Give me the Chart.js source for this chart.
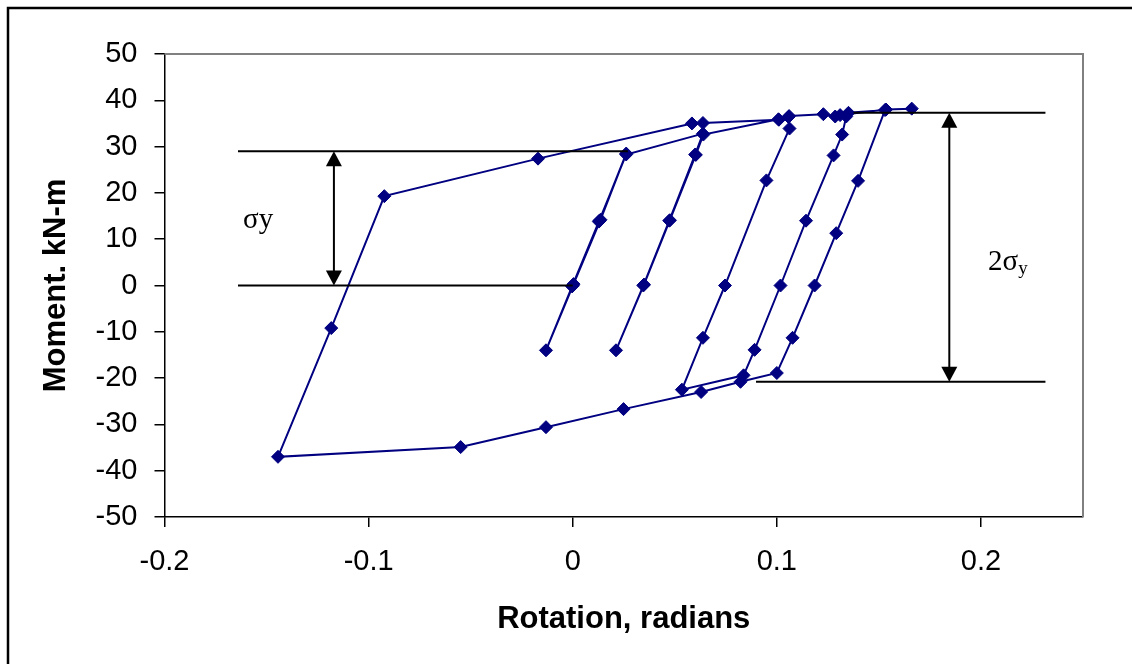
<!DOCTYPE html>
<html>
<head>
<meta charset="utf-8">
<script src="https://cdn.jsdelivr.net/npm/chart.js@4.4.1/dist/chart.umd.min.js"></script>
<style>
  html, body { margin: 0; padding: 0; background: #fff; }
  #chart { display: block; }
</style>
</head>
<body>
<canvas id="chart" width="1132" height="664"></canvas>
<script>
// measured loop, in test order (rotation in radians, moment in kN-m)
const rotation = [
    0.0000, 0.0131, 0.0262, 0.0136, 0.0004, -0.0131, -0.0003, 0.0128, 0.0262,
    0.0638, 0.0600, 0.0473, 0.0346, 0.0212, 0.0349, 0.0476, 0.0603, 0.0640,
    0.1008, 0.1057, 0.1062, 0.0949, 0.0746, 0.0638, 0.0535,
    0.0837, 0.0891, 0.1018, 0.1143, 0.1278, 0.1320, 0.1340, 0.1351,
    0.1530, 0.1398, 0.1291, 0.1185, 0.1077, 0.1000,
    0.0822, 0.0629, 0.0249, -0.0131, -0.0549, -0.1444,
    -0.1183, -0.0923, -0.0170, 0.0584, 0.0638,
    0.1010, 0.1060, 0.1228, 0.1286, 0.1310, 0.1535, 0.1661
];
const moment = [
    0.0, 14.0, 28.5, 14.2, 0.3, -14.0, -0.2, 13.8, 28.3,
    32.8, 28.3, 14.0, 0.0, -14.0, 0.2, 14.1, 28.2, 32.6,
    35.9, 36.4, 33.9, 22.7, 0.0, -11.3, -22.5,
    -19.4, -13.9, 0.0, 14.0, 28.1, 32.6, 36.5, 37.3,
    37.9, 22.6, 11.3, 0.0, -11.3, -18.9,
    -20.8, -23.0, -26.7, -30.6, -34.9, -37.0,
    -9.2, 19.3, 27.4, 35.0, 35.1,
    35.8, 36.6, 37.0, 36.5, 36.8, 38.0, 38.2
];

// axis ticks
const xTicks = [-0.2, -0.1, 0, 0.1, 0.2];
const yTicks = [50, 40, 30, 20, 10, 0, -10, -20, -30, -40, -50];

// annotation: yield band (sigma y) and reversed band (2 sigma y)
const sigmaLevels = [29.0, 0.0];
const sigmaStart = [-0.164, -0.164];
const sigmaEnd = [0.027, 0.0];
const sigmaArrowX = -0.117;
const twoSigmaLevels = [37.3, -20.8];
const twoSigmaStart = [0.1376, 0.0898];
const twoSigmaEnd = [0.2316, 0.2316];
const twoSigmaArrowX = 0.1845;

const points = rotation.map((r, i) => ({ x: r, y: moment[i] }));

function arrowHead(ctx, x, y, dir) {
    // dir = -1 points up, 1 points down; tip at (x, y)
    ctx.beginPath();
    ctx.moveTo(x, y);
    ctx.lineTo(x - 8, y - dir * 15);
    ctx.lineTo(x + 8, y - dir * 15);
    ctx.closePath();
    ctx.fill();
}

const annotate = {
    id: "annotate",
    beforeDraw(chart) {
        const ctx = chart.ctx;
        ctx.save();
        ctx.fillStyle = "#fff";
        ctx.fillRect(0, 0, chart.width, chart.height);
        ctx.strokeStyle = "#000";
        ctx.lineWidth = 2.5;
        ctx.strokeRect(8, 8, chart.width + 20, chart.height + 20);
        ctx.restore();
    },
    beforeDatasetsDraw(chart) {
        const ctx = chart.ctx;
        const a = chart.chartArea;
        ctx.save();
        ctx.strokeStyle = "#808080";
        ctx.lineWidth = 2;
        ctx.beginPath();
        ctx.moveTo(a.left, a.top);
        ctx.lineTo(a.right, a.top);
        ctx.lineTo(a.right, a.bottom);
        ctx.stroke();
        ctx.restore();
    },
    afterDatasetsDraw(chart) {
        const ctx = chart.ctx;
        const xs = chart.scales.x, ys = chart.scales.y;
        ctx.save();
        ctx.strokeStyle = "#000";
        ctx.fillStyle = "#000";
        ctx.lineWidth = 2;

        const hline = (y, x0, x1) => {
            ctx.beginPath();
            ctx.moveTo(xs.getPixelForValue(x0), ys.getPixelForValue(y));
            ctx.lineTo(xs.getPixelForValue(x1), ys.getPixelForValue(y));
            ctx.stroke();
        };
        const arrow = (x, yTop, yBot) => {
            const px = xs.getPixelForValue(x);
            const t = ys.getPixelForValue(yTop), b = ys.getPixelForValue(yBot);
            ctx.beginPath();
            ctx.moveTo(px, t + 10);
            ctx.lineTo(px, b - 10);
            ctx.stroke();
            arrowHead(ctx, px, t, -1);
            arrowHead(ctx, px, b, 1);
        };

        sigmaLevels.forEach((y, i) => hline(y, sigmaStart[i], sigmaEnd[i]));
        twoSigmaLevels.forEach((y, i) => hline(y, twoSigmaStart[i], twoSigmaEnd[i]));
        arrow(sigmaArrowX, sigmaLevels[0], sigmaLevels[1]);
        arrow(twoSigmaArrowX, twoSigmaLevels[0], twoSigmaLevels[1]);

        ctx.textBaseline = "middle";
        ctx.textAlign = "left";
        ctx.font = "29px 'Liberation Serif', 'Times New Roman', serif";
        ctx.fillText("σy", xs.getPixelForValue(-0.1615), ys.getPixelForValue(14));

        const tx = xs.getPixelForValue(0.2035), ty = ys.getPixelForValue(5);
        ctx.fillText("2σ", tx, ty);
        const w = ctx.measureText("2σ").width;
        ctx.font = "19px 'Liberation Serif', 'Times New Roman', serif";
        ctx.fillText("y", tx + w, ty + 7);
        ctx.restore();
    }
};

new Chart(document.getElementById("chart"), {
    type: "scatter",
    data: {
        datasets: [{
            data: points,
            showLine: true,
            borderColor: "#000080",
            borderWidth: 2,
            tension: 0,
            pointStyle: "rectRot",
            pointRadius: 6.5,
            pointBackgroundColor: "#000080",
            pointBorderColor: "#000080",
            pointBorderWidth: 1
        }]
    },
    options: {
        responsive: false,
        animation: false,
        devicePixelRatio: 1,
        layout: { padding: { top: 54, right: 49, left: 0, bottom: 0 } },
        plugins: {
            legend: { display: false },
            tooltip: { enabled: false }
        },
        scales: {
            x: {
                type: "linear",
                min: -0.2,
                max: 0.25,
                afterFit: s => { s.height = 147; },
                afterBuildTicks: s => { s.ticks = xTicks.map(v => ({ value: v })); },
                ticks: {
                    stepSize: 0.1,
                    includeBounds: false,
                    padding: 18,
                    color: "#000",
                    font: { family: "'Liberation Sans', Arial, sans-serif", size: 29 },
                    callback: v => String(Math.round(v * 10) / 10)
                },
                grid: { drawOnChartArea: false, tickLength: 10, color: "#000", lineWidth: 1.5 },
                border: { color: "#000", width: 1.5 },
                title: {
                    display: true,
                    text: "Rotation, radians",
                    color: "#000",
                    font: { family: "'Liberation Sans', Arial, sans-serif", size: 31, weight: "bold" },
                    padding: { top: 0, bottom: 26 }
                }
            },
            y: {
                min: -50,
                max: 50,
                afterFit: s => { s.width = 164.5; },
                afterBuildTicks: s => { s.ticks = yTicks.map(v => ({ value: v })); },
                ticks: {
                    stepSize: 10,
                    padding: 17,
                    color: "#000",
                    font: { family: "'Liberation Sans', Arial, sans-serif", size: 29 }
                },
                grid: { drawOnChartArea: false, tickLength: 10, color: "#000", lineWidth: 1.5 },
                border: { color: "#000", width: 1.5 },
                title: {
                    display: true,
                    text: "Moment. kN-m",
                    color: "#000",
                    font: { family: "'Liberation Sans', Arial, sans-serif", size: 31, weight: "bold" },
                    padding: { top: 38, bottom: 0 }
                }
            }
        }
    },
    plugins: [annotate]
});
</script>
</body>
</html>
